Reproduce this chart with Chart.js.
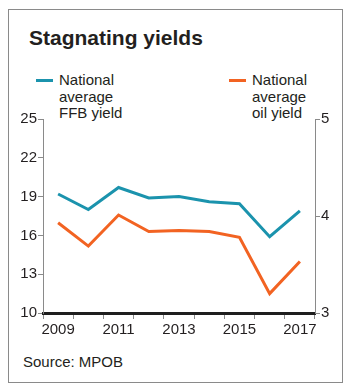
<!DOCTYPE html>
<html>
<head>
<meta charset="utf-8">
<script src="https://cdn.jsdelivr.net/npm/chart.js@4/dist/chart.umd.min.js"></script>
<style>
    html, body { margin: 0; padding: 0; background: #fff; }
    body { width: 350px; height: 392px; position: relative; overflow: hidden; font-family: "Liberation Sans", Arial, sans-serif; color: #231f20; }
    #frame { position: absolute; left: 8px; top: 9px; width: 333px; height: 372px; border: 1px solid #8a8a8a; }
    #title { position: absolute; left: 29px; top: 26px; font-family: "Liberation Sans Narrow", "Liberation Sans", sans-serif; font-weight: bold; font-size: 21px; }
    .legend { position: absolute; font-size: 15px; line-height: 16.5px; }
    .legend .swatch { position: absolute; left: -23px; top: 7px; width: 17px; height: 3px; }
    #source { position: absolute; left: 23px; top: 353px; font-size: 15px; }
    #chart-box { position: absolute; left: 0; top: 0; width: 350px; height: 392px; }
</style>
</head>
<body>
<div id="frame"></div>
<div id="title">Stagnating yields</div>
<div class="legend" style="left:59px; top:72px;"><span class="swatch" style="background:#1b93ad"></span>National<br>average<br>FFB yield</div>
<div class="legend" style="left:252px; top:72px;"><span class="swatch" style="background:#f26322"></span>National<br>average<br>oil yield</div>
<div id="source">Source: MPOB</div>
<div id="chart-box"><canvas id="chart"></canvas></div>

<script>
// Tonnes per hectare, Malaysia
const years = ["2009", "2010", "2011", "2012", "2013", "2014", "2015", "2016", "2017"];
const ffb_yield = [19.2, 18.0, 19.7, 18.9, 19.0, 18.6, 18.45, 15.9, 17.9];
const oil_yield = [3.93, 3.69, 4.01, 3.84, 3.85, 3.84, 3.78, 3.2, 3.53];

const blue = "#1b93ad";
const orange = "#f26322";
const axis_grey = "#8a8a8a";
const text_col = "#231f20";
const tick_font = { family: "Liberation Sans", size: 15 };

window.onload = () => {
    draw_chart();
}

/**
 * Draw the yield chart.
 * @returns {void} nothing.
 */
function draw_chart() {
    let chart_el = document.querySelector("#chart");

    new Chart(chart_el, {
        type: "line",
        data: {
            labels: years,
            datasets: [{
                label: "National average FFB yield",
                data: ffb_yield,
                borderColor: blue,
                borderWidth: 3,
                pointRadius: 0,
                tension: 0,
                yAxisID: "y"
            }, {
                label: "National average oil yield",
                data: oil_yield,
                borderColor: orange,
                borderWidth: 3,
                pointRadius: 0,
                tension: 0,
                yAxisID: "y2"
            }]
        },
        options: {
            responsive: true,
            maintainAspectRatio: false,
            animation: false,
            layout: {
                padding: { top: 119, bottom: 50, left: 0, right: 0 }
            },
            plugins: {
                legend: { display: false },
                tooltip: { enabled: false }
            },
            scales: {
                x: {
                    offset: true,
                    border: { color: "#1e1e1e", width: 3 },
                    grid: { offset: true, drawOnChartArea: false, tickLength: 6, color: axis_grey },
                    ticks: {
                        autoSkip: false,
                        maxRotation: 0,
                        color: text_col,
                        font: tick_font,
                        padding: 2,
                        callback: (value, index) => index % 2 === 0 ? years[index] : ""
                    },
                    afterFit: (scale) => { scale.height = 29; }
                },
                y: {
                    position: "left",
                    min: 10,
                    max: 25,
                    border: { color: axis_grey, width: 1 },
                    grid: { drawOnChartArea: false, tickLength: 5, color: axis_grey },
                    ticks: { stepSize: 3, color: text_col, font: tick_font, padding: 1 },
                    afterFit: (scale) => { scale.width = 43; }
                },
                y2: {
                    position: "right",
                    min: 3,
                    max: 5,
                    border: { color: axis_grey, width: 1 },
                    grid: { drawOnChartArea: false, tickLength: 5, color: axis_grey },
                    ticks: { stepSize: 1, color: text_col, font: tick_font, padding: 1 },
                    afterFit: (scale) => { scale.width = 35; }
                }
            }
        }
    });
}
</script>
</body>
</html>
